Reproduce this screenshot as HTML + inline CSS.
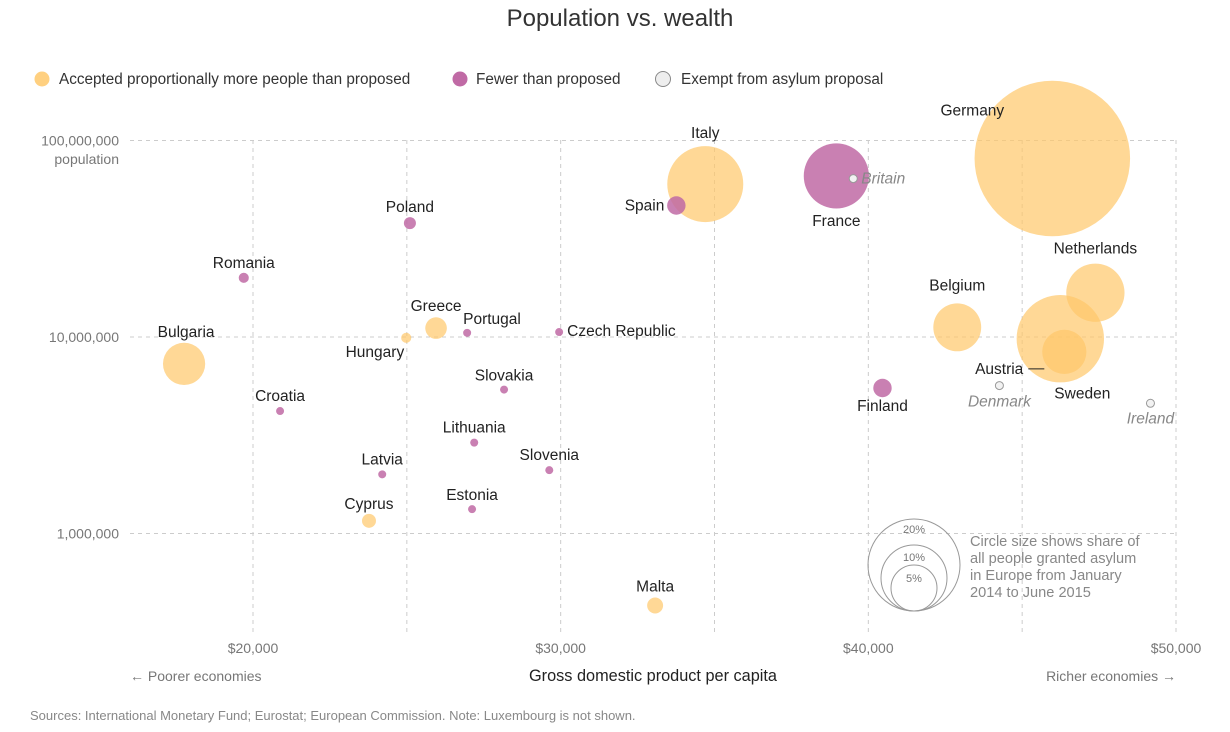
<!DOCTYPE html>
<html><head><meta charset="utf-8"><style>
body{margin:0;background:#fff;font-family:"Liberation Sans",sans-serif;}
svg text{font-family:"Liberation Sans",sans-serif;}
</style></head><body>
<svg id="c" width="1230" height="727">
<text x="620" y="26" text-anchor="middle" font-size="24" fill="#333">Population vs. wealth</text>
<g>
<circle cx="42" cy="79" r="7.5" fill="#ffc86a" fill-opacity="0.85"/>
<text x="59" y="84" font-size="15.3" fill="#333">Accepted proportionally more people than proposed</text>
<circle cx="460" cy="79" r="7.5" fill="#c06aa5"/>
<text x="476" y="84" font-size="15.3" fill="#333">Fewer than proposed</text>
<circle cx="663" cy="79" r="7.5" fill="#eee" stroke="#888"/>
<text x="681" y="84" font-size="15.3" fill="#333">Exempt from asylum proposal</text>
</g>
<g id="grid"></g>
<g id="marks"></g>
<g>
<circle cx="914" cy="565" r="46" fill="none" stroke="#999"/>
<circle cx="914" cy="578" r="33" fill="none" stroke="#999"/>
<circle cx="914" cy="588" r="23" fill="none" stroke="#999"/>
<text x="914" y="533" font-size="11" fill="#777" text-anchor="middle">20%</text>
<text x="914" y="561" font-size="11" fill="#777" text-anchor="middle">10%</text>
<text x="914" y="582" font-size="11" fill="#777" text-anchor="middle">5%</text>
<text font-size="14.6" fill="#888"><tspan x="970" y="546">Circle size shows share of</tspan><tspan x="970" y="563">all people granted asylum</tspan><tspan x="970" y="580">in Europe from January</tspan><tspan x="970" y="597">2014 to June 2015</tspan></text>
</g>
<text x="130" y="681" font-size="14" fill="#777">← Poorer economies</text>
<text x="653" y="681" font-size="16.3" fill="#222" text-anchor="middle">Gross domestic product per capita</text>
<text x="1176" y="681" font-size="14" fill="#777" text-anchor="end">Richer economies →</text>
<text x="30" y="720" font-size="13" fill="#888">Sources: International Monetary Fund; Eurostat; European Commission. Note: Luxembourg is not shown.</text>
</svg>
<script>
const countries=["Germany","France","Italy","Spain","Britain","Netherlands","Belgium","Sweden","Austria","Denmark","Ireland","Finland","Poland","Romania","Bulgaria","Hungary","Greece","Portugal","Czech Republic","Slovakia","Croatia","Lithuania","Latvia","Slovenia","Estonia","Cyprus","Malta"];
const gdp=[45980,38960,34700,33760,39510,47380,42890,46240,46370,44260,49170,40460,25100,19700,17760,24980,25950,26960,29950,28160,20880,27190,24200,29630,27120,23770,33070];
const pop=[81e6,66e6,60e6,46.7e6,64e6,16.8e6,11.2e6,9.8e6,8.4e6,5.66e6,4.6e6,5.5e6,38e6,20e6,7.3e6,9.9e6,11.1e6,10.5e6,10.6e6,5.4e6,4.2e6,2.9e6,2.0e6,2.1e6,1.33e6,1.16e6,0.43e6];
const share=[57,10,13.6,0.8,0,8,5.4,18,4.6,0,0,0.8,0.34,0.24,4.2,0.24,1.1,0.15,0.15,0.15,0.15,0.15,0.15,0.15,0.15,0.46,0.6];
const group=["more","fewer","more","fewer","exempt","more","more","more","more","exempt","exempt","fewer","fewer","fewer","more","more","more","fewer","fewer","fewer","fewer","fewer","fewer","fewer","fewer","more","more"];
const xTicks=[20000,25000,30000,35000,40000,45000,50000];
const xTickLabels=["$20,000","","$30,000","","$40,000","","$50,000"];
const yTicks=[1e6,1e7,1e8];
const yTickLabels=["1,000,000","10,000,000","100,000,000"];
const lab={Germany:[-80,-43,"middle"],France:[0,50,"middle"],Italy:[0,-46,"middle"],Spain:[-12,5,"end"],Britain:[8,5,"start",1],Netherlands:[0,-39,"middle"],Belgium:[0,-37,"middle"],Sweden:[22,60,"middle"],Austria:[-41,22,"end"],Denmark:[0,21,"middle",1],Ireland:[0,20,"middle",1],Finland:[0,23,"middle"],Poland:[0,-11,"middle"],Romania:[0,-10,"middle"],Bulgaria:[2,-27,"middle"],Hungary:[-2,19,"end"],Greece:[0,-17,"middle"],Portugal:[-4,-9,"start"],"Czech Republic":[8,4,"start"],Slovakia:[0,-9,"middle"],Croatia:[0,-10,"middle"],Lithuania:[0,-10,"middle"],Latvia:[0,-10,"middle"],Slovenia:[0,-10,"middle"],Estonia:[0,-9,"middle"],Cyprus:[0,-12,"middle"],Malta:[0,-14,"middle"]};
const NS="http://www.w3.org/2000/svg";
const X=v=>253+(v-20000)*(923/30000);
const Y=v=>337-(Math.log10(v)-7)*196.5;
const R=s=>10.3*Math.sqrt(s);
function mk(t,a,p){const e=document.createElementNS(NS,t);for(const k in a)e.setAttribute(k,a[k]);p.appendChild(e);return e;}
const grid=document.getElementById("grid"),marks=document.getElementById("marks");
xTicks.forEach((t,i)=>{
 const l=mk("line",{x1:X(t),x2:X(t),y1:140,y2:632,stroke:"#ccc","stroke-dasharray":"4,4"},grid);
 
 
 if(xTickLabels[i]){const tx=mk("text",{x:X(t),y:653,"font-size":14,fill:"#777","text-anchor":"middle"},grid);tx.textContent=xTickLabels[i];
 
 }
});
yTicks.forEach((t,i)=>{
 const l=mk("line",{x1:130,x2:1176,y1:Y(t),y2:Y(t),stroke:"#ccc","stroke-dasharray":"4,4"},grid);
 
 
 const tx=mk("text",{x:119,y:Y(t)+5,"font-size":14,fill:"#777","text-anchor":"end"},grid);tx.textContent=yTickLabels[i];
 
 
});
const pl=mk("text",{x:119,y:164,"font-size":14,fill:"#777","text-anchor":"end"},grid);pl.textContent="population";


const order=countries.map((c,i)=>i).sort((a,b)=>share[b]-share[a]);
order.forEach(i=>{
 const g=group[i];let c;
 if(g==="exempt") c=mk("circle",{cx:X(gdp[i]),cy:Y(pop[i]),r:4,fill:"#f2f2f2",stroke:"#999"},marks);
 else c=mk("circle",{cx:X(gdp[i]),cy:Y(pop[i]),r:Math.max(R(share[i]),4),fill:g==="more"?"#ffc86a":"#c06aa5","fill-opacity":g==="more"?0.7:0.85},marks);
 
 
});
countries.forEach((n,i)=>{
 const L=lab[n];const x=X(gdp[i])+L[0],y=Y(pop[i])+L[1];
 const t=mk("text",{x:x,y:y,"font-size":15.5,fill:L[3]?"#888":"#222","text-anchor":L[2]},marks);
 if(L[3])t.setAttribute("font-style","italic");
 t.textContent=n;
 
 
});
const ad=mk("line",{x1:X(46370)-36,x2:X(46370)-20,y1:Y(8.4e6)+17,y2:Y(8.4e6)+17,stroke:"#222"},marks);


</script>
</body></html>
